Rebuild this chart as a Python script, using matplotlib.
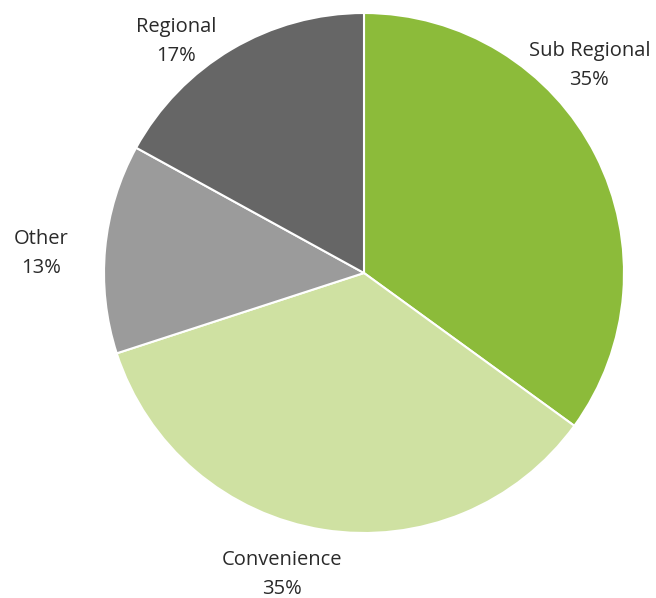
import matplotlib
matplotlib.use("Agg")
import matplotlib.pyplot as plt

categories = ["Sub Regional", "Convenience", "Other", "Regional"]
shares = [35, 35, 13, 17]
colors = ["#8cbb3a", "#cfe1a2", "#9b9b9b", "#666666"]
# label anchor points in units of the pie radius
label_xy = [(0.867, 0.797), (-0.315, -1.158), (-1.242, 0.076), (-0.723, 0.889)]

plt.rcParams["font.family"] = ["Open Sans", "DejaVu Sans"]

fig = plt.figure(figsize=(6.56, 5.98), dpi=100)
ax = fig.add_axes([0, 0, 1, 1])

wedges, _ = ax.pie(
    shares,
    colors=colors,
    startangle=90,
    counterclock=False,
    radius=1.0,
    wedgeprops=dict(edgecolor="white", linewidth=1.5),
)

for name, val, (lx, ly) in zip(categories, shares, label_xy):
    ax.text(lx, ly, f"{name}\n{val}%", ha="center", va="center",
            fontsize=14.5, color="#2a2a2a", linespacing=1.6)

ax.set_xlim(-364 / 260, (656 - 364) / 260)
ax.set_ylim(-(598 - 273) / 260, 273 / 260)
ax.set_aspect("auto")
ax.axis("off")

fig.savefig("out.png", dpi=100, facecolor="white")
